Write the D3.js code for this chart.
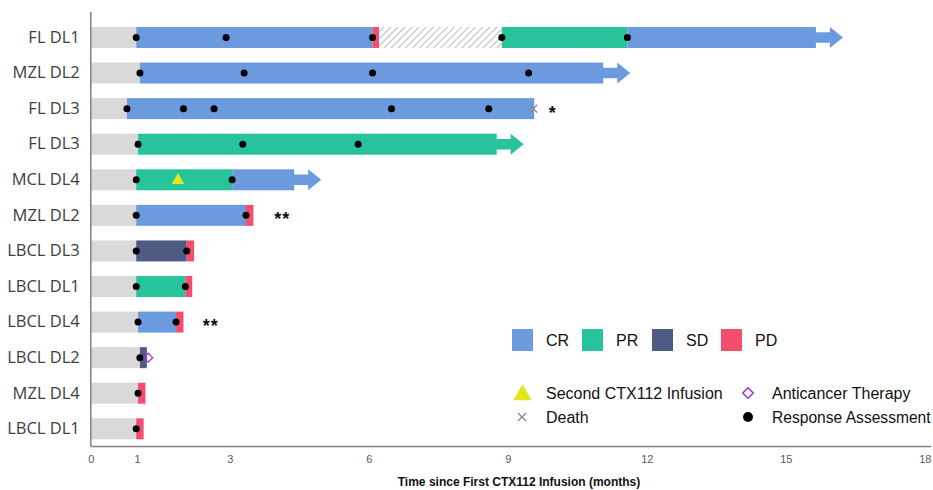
<!DOCTYPE html>
<html>
<head>
<meta charset="utf-8">
<script src="https://cdn.jsdelivr.net/npm/d3@7"></script>
<style>
  html, body { margin: 0; padding: 0; background: #fff; }
  svg { display: block; }
</style>
</head>
<body>
<svg id="chart" width="933" height="490"></svg>
<script>
// Patients, top to bottom
const patients = ["FL DL1", "MZL DL2", "FL DL3", "FL DL3", "MCL DL4", "MZL DL2",
                  "LBCL DL3", "LBCL DL1", "LBCL DL4", "LBCL DL2", "MZL DL4", "LBCL DL1"];

// Time (months) from first infusion to start of response period
const preResponse = [0.98, 1.06, 0.78, 1.02, 0.98, 0.98, 0.98, 0.98, 1.02, 1.06, 1.02, 0.98];

// Response periods per patient: [status, start, end] in months
const responsePeriods = [
  [["CR", 0.98, 6.08], ["PD", 6.08, 6.22], ["OFF", 6.22, 8.87], ["PR", 8.87, 11.58], ["CR", 11.58, 15.65]],
  [["CR", 1.06, 11.06]],
  [["CR", 0.78, 9.57]],
  [["PR", 1.02, 8.76]],
  [["PR", 0.98, 3.05], ["CR", 3.05, 4.39]],
  [["CR", 0.98, 3.35], ["PD", 3.35, 3.51]],
  [["SD", 0.98, 2.07], ["PD", 2.07, 2.23]],
  [["PR", 0.98, 2.04], ["PD", 2.04, 2.19]],
  [["CR", 1.02, 1.84], ["PD", 1.84, 2.00]],
  [["SD", 1.06, 1.21]],
  [["PD", 1.02, 1.18]],
  [["PD", 0.98, 1.14]]
];

// Ongoing response at data cutoff
const ongoing = [true, true, false, true, true, false, false, false, false, false, false, false];

// Response assessment times (months)
const assessments = [
  [0.98, 2.92, 6.08, 8.87, 11.58],
  [1.06, 3.31, 6.08, 9.45],
  [0.78, 2.0, 2.66, 6.49, 8.59],
  [1.02, 3.28, 5.77],
  [0.98, 3.05],
  [0.98, 3.35],
  [0.98, 2.07],
  [0.98, 2.04],
  [1.02, 1.84],
  [1.06],
  [1.02],
  [0.98]
];

// Events: [row, month]
const secondInfusion = [[4, 1.88]];
const deaths = [[2, 9.55]];
const anticancerTherapy = [[9, 1.24]];

// Footnote markers: [row, month, text]
const footnotes = [[2, 9.97, "*"], [5, 4.13, "**"], [8, 2.59, "**"]];

// Axis ticks
const xTicks = [0, 1, 3, 6, 9, 12, 15, 18];

const statusColors = { CR: "#6b9ade", PR: "#27c39a", SD: "#4f5a85", PD: "#f24f6f" };
const statusOrder = ["CR", "PR", "SD", "PD"];

const svg = d3.select("#chart");

const x = d3.scaleLinear().domain([0, 18]).range([90.8, 924.8]);
const y = d3.scaleBand()
  .domain(d3.range(patients.length))
  .range([19.7, 446.6])
  .paddingInner(0.41)
  .paddingOuter(0.205);
const bh = y.bandwidth();
const cy = i => y(i) + bh / 2;

// Hatch pattern for the period off response follow-up
const defs = svg.append("defs");
const pat = defs.append("pattern")
  .attr("id", "hatch")
  .attr("patternUnits", "userSpaceOnUse")
  .attr("width", 5).attr("height", 5)
  .attr("patternTransform", "rotate(45)");
pat.append("rect").attr("width", 5).attr("height", 5).attr("fill", "#fff");
pat.append("line").attr("x1", 0).attr("y1", 0).attr("x2", 0).attr("y2", 5)
  .attr("stroke", "#7a7a7a").attr("stroke-width", 1);

const fillFor = s => s === "OFF" ? "url(#hatch)" : statusColors[s];

// Grey pre-response bars
svg.append("g").selectAll("rect")
  .data(preResponse)
  .join("rect")
  .attr("x", x(0))
  .attr("y", (d, i) => y(i))
  .attr("width", d => x(d) - x(0))
  .attr("height", bh)
  .attr("fill", "#d9d9d9");

// Response segments
const segG = svg.append("g");
responsePeriods.forEach((segs, i) => {
  segG.selectAll(null)
    .data(segs)
    .join("rect")
    .attr("x", d => x(d[1]))
    .attr("y", y(i))
    .attr("width", d => x(d[2]) - x(d[1]))
    .attr("height", bh)
    .attr("fill", d => fillFor(d[0]));
});

// Arrows for ongoing responses
const shaftLen = 14, headLen = 13, shaftH = 10.4;
responsePeriods.forEach((segs, i) => {
  if (!ongoing[i]) return;
  const last = segs[segs.length - 1];
  const x0 = x(last[2]);
  const c = cy(i);
  const pts = [
    [x0 - 0.5, c - shaftH / 2],
    [x0 + shaftLen, c - shaftH / 2],
    [x0 + shaftLen, y(i)],
    [x0 + shaftLen + headLen, c],
    [x0 + shaftLen, y(i) + bh],
    [x0 + shaftLen, c + shaftH / 2],
    [x0 - 0.5, c + shaftH / 2]
  ];
  segG.append("polygon")
    .attr("points", pts.map(p => p.join(",")).join(" "))
    .attr("fill", statusColors[last[0]]);
});

// Response assessments
const dotG = svg.append("g");
assessments.forEach((ts, i) => {
  dotG.selectAll(null)
    .data(ts)
    .join("circle")
    .attr("cx", d => x(d))
    .attr("cy", cy(i))
    .attr("r", 3.5)
    .attr("fill", "#000");
});

// Second infusion triangles
const tri = d3.symbol().type(d3.symbolTriangle).size(70);
svg.append("g").selectAll("path")
  .data(secondInfusion)
  .join("path")
  .attr("d", tri)
  .attr("transform", d => `translate(${x(d[1])},${cy(d[0]) + 0.5})`)
  .attr("fill", "#e6e61e");

// Deaths
const cross = d3.symbol().type(d3.symbolX).size(40);
svg.append("g").selectAll("path")
  .data(deaths)
  .join("path")
  .attr("d", cross)
  .attr("transform", d => `translate(${x(d[1])},${cy(d[0])})`)
  .attr("stroke", "#8c8c8c")
  .attr("stroke-width", 1.3)
  .attr("fill", "none");

// Anticancer therapy
const diamond = d3.symbol().type(d3.symbolDiamond2).size(50);
svg.append("g").selectAll("path")
  .data(anticancerTherapy)
  .join("path")
  .attr("d", diamond)
  .attr("transform", d => `translate(${x(d[1])},${cy(d[0])})`)
  .attr("stroke", "#9b35e0")
  .attr("stroke-width", 1.3)
  .attr("fill", "none");

// Footnote markers
svg.append("g").selectAll("text")
  .data(footnotes)
  .join("text")
  .attr("x", d => x(d[1]))
  .attr("y", d => cy(d[0]) + 10)
  .attr("text-anchor", "middle")
  .attr("font-family", "Liberation Sans, Arial, sans-serif")
  .attr("font-weight", "bold")
  .attr("font-size", 18)
  .attr("letter-spacing", 1)
  .attr("fill", "#111")
  .text(d => d[2]);

// Y axis: patient labels
const yAxis = d3.axisLeft(y).tickFormat(i => patients[i]).tickSize(0).tickPadding(11);
const yG = svg.append("g").attr("transform", `translate(${x(0)},0)`).call(yAxis);
yG.select(".domain").remove();
yG.selectAll("text")
  .attr("font-family", "Open Sans, Noto Sans, sans-serif")
  .attr("font-size", 16.5)
  .attr("fill", "#404040");

svg.append("line")
  .attr("x1", x(0)).attr("x2", x(0))
  .attr("y1", 12).attr("y2", 446.6)
  .attr("stroke", "#7f7f7f").attr("stroke-width", 1.5);

// X axis
const xAxis = d3.axisBottom(x).tickValues(xTicks).tickSize(0).tickPadding(9);
const xG = svg.append("g").attr("transform", "translate(0,446.6)").call(xAxis);
xG.select(".domain").remove();
xG.selectAll("text")
  .attr("font-family", "Liberation Sans Narrow, Liberation Sans, Arial, sans-serif")
  .attr("font-size", 11)
  .attr("fill", "#595959");
svg.append("line")
  .attr("x1", x(0)).attr("x2", 931)
  .attr("y1", 446.6).attr("y2", 446.6)
  .attr("stroke", "#7f7f7f").attr("stroke-width", 1.5);

svg.append("text")
  .attr("x", 519).attr("y", 486)
  .attr("text-anchor", "middle")
  .attr("font-family", "Liberation Sans Narrow, Liberation Sans, Arial, sans-serif")
  .attr("font-weight", "bold")
  .attr("font-size", 12)
  .attr("fill", "#111")
  .text("Time since First CTX112 Infusion (months)");

// Legend: response statuses
const legFont = "Liberation Sans, Arial, sans-serif";
const legX = [512, 582, 652, 721];
const lg = svg.append("g");
lg.selectAll("rect")
  .data(statusOrder)
  .join("rect")
  .attr("x", (d, i) => legX[i])
  .attr("y", 329)
  .attr("width", 21).attr("height", 22)
  .attr("fill", d => statusColors[d]);
lg.selectAll("text")
  .data(statusOrder)
  .join("text")
  .attr("x", (d, i) => legX[i] + 34)
  .attr("y", 346)
  .attr("font-family", legFont)
  .attr("font-size", 16)
  .attr("fill", "#111")
  .text(d => d);

// Legend: events
const eg = svg.append("g").attr("font-family", legFont).attr("font-size", 16).attr("fill", "#111");
eg.append("path").attr("d", d3.symbol().type(d3.symbolTriangle).size(150))
  .attr("transform", "translate(522.5,395)").attr("fill", "#e6e61e");
eg.append("text").attr("x", 546).attr("y", 398.5).text("Second CTX112 Infusion");
eg.append("path").attr("d", d3.symbol().type(d3.symbolX).size(45))
  .attr("transform", "translate(522,417)").attr("stroke", "#8c8c8c").attr("stroke-width", 1.4).attr("fill", "none");
eg.append("text").attr("x", 546).attr("y", 423).text("Death");
eg.append("path").attr("d", d3.symbol().type(d3.symbolDiamond2).size(70))
  .attr("transform", "translate(748,393)").attr("stroke", "#9b35e0").attr("stroke-width", 1.5).attr("fill", "none");
eg.append("text").attr("x", 772).attr("y", 398.5).text("Anticancer Therapy");
eg.append("circle").attr("cx", 748).attr("cy", 417).attr("r", 5).attr("fill", "#000");
eg.append("text").attr("x", 772).attr("y", 423).attr("font-size", 15.6).text("Response Assessment");
</script>
</body>
</html>
